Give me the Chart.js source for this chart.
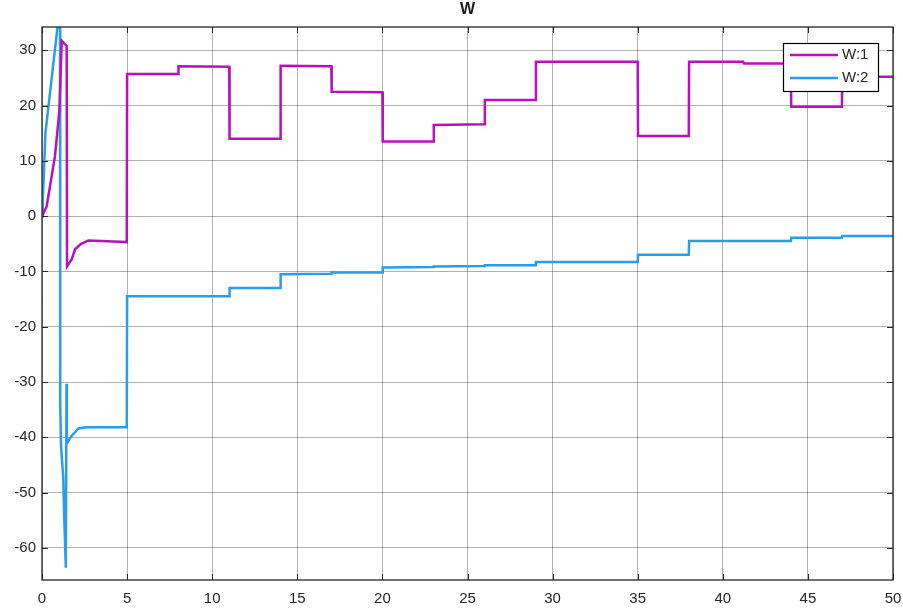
<!DOCTYPE html>
<html>
<head>
<meta charset="utf-8">
<title>W</title>
<script src="https://cdn.jsdelivr.net/npm/chart.js@4.4.1/dist/chart.umd.min.js"></script>
<style>
  body { margin: 0; background: #fff; }
  #wrap { width: 903px; height: 614px; }
</style>
</head>
<body>
<div id="wrap"><canvas id="wChart" width="903" height="614"></canvas></div>
<script>
// W:1 (magenta) - time and value
const w1Time = [0, 0.27, 0.47, 0.76, 1.02, 1.16, 1.35, 1.45, 1.47, 1.75, 1.94, 2.3, 2.72, 3.5, 4.2, 4.98,
  5.0, 8.0, 8.02, 11.0, 11.02, 14.0, 14.02, 17.0, 17.02, 20.0, 20.02, 23.0, 23.02, 26.0, 26.02,
  29.0, 29.02, 35.0, 35.02, 38.0, 38.02, 41.2, 41.25, 44.0, 44.02, 47.0, 47.02, 50];
const w1Value = [0, 1.7, 5.4, 10.8, 19, 31.7, 31.1, 30.8, -9.1, -7.8, -6.0, -5.0, -4.4, -4.5, -4.6, -4.7,
  25.7, 25.7, 27.1, 27.0, 14.0, 14.0, 27.2, 27.1, 22.5, 22.4, 13.5, 13.5, 16.5, 16.6, 21.0,
  21.0, 27.9, 27.9, 14.5, 14.5, 27.9, 27.9, 27.6, 27.6, 19.8, 19.8, 25.2, 25.2];

// W:2 (blue)
const w2Time = [0, 0.05, 0.2, 0.98, 1.06, 1.07, 1.12, 1.25, 1.3, 1.4, 1.44, 1.46, 1.75, 2.14, 2.6, 4.98,
  5.0, 11.0, 11.02, 14.0, 14.02, 17.0, 17.02, 20.0, 20.02, 23.0, 23.02, 26.0, 26.02, 29.0, 29.02,
  35.0, 35.02, 38.0, 38.02, 44.0, 44.02, 47.0, 47.02, 50];
const w2Value = [0, 3, 15, 36, 34, -33.8, -41.8, -47.3, -53.9, -63.6, -30.3, -41.1, -39.7, -38.4, -38.2, -38.2,
  -14.5, -14.5, -13.0, -13.0, -10.5, -10.4, -10.2, -10.2, -9.3, -9.2, -9.1, -9.0, -8.9, -8.9, -8.3,
  -8.3, -7.0, -7.0, -4.5, -4.5, -3.9, -3.9, -3.6, -3.6];

const seriesLabels = ['W:1', 'W:2'];
const chartTitle = 'W';
const xTicks = [0, 5, 10, 15, 20, 25, 30, 35, 40, 45, 50];
const yTicks = [-60, -50, -40, -30, -20, -10, 0, 10, 20, 30];

const toPoints = (t, v) => t.map((x, i) => ({ x: x, y: v[i] }));

const fontFamily = '"Liberation Sans", Arial, Helvetica, sans-serif';
const axisColor = '#262626';

// box around the plot with inward tick marks, like the original
const boxPlugin = {
  id: 'box',
  afterDatasetsDraw(chart) {
    const { ctx, chartArea: a, scales } = chart;
    ctx.save();
    ctx.strokeStyle = axisColor;
    ctx.lineWidth = 1;
    ctx.beginPath();
    xTicks.forEach(v => {
      const px = Math.round(scales.x.getPixelForValue(v)) + 0.5;
      ctx.moveTo(px, a.bottom); ctx.lineTo(px, a.bottom - 6);
      ctx.moveTo(px, a.top); ctx.lineTo(px, a.top + 6);
    });
    yTicks.forEach(v => {
      const py = Math.round(scales.y.getPixelForValue(v)) + 0.5;
      ctx.moveTo(a.left, py); ctx.lineTo(a.left + 6, py);
      ctx.moveTo(a.right, py); ctx.lineTo(a.right - 6, py);
    });
    ctx.stroke();
    ctx.lineWidth = 1.3;
    ctx.strokeRect(a.left, a.top, a.right - a.left, a.bottom - a.top);
    ctx.restore();
  }
};

// legend drawn inside the plot, top right
const insideLegend = {
  id: 'insideLegend',
  afterDraw(chart) {
    const { ctx, chartArea: a } = chart;
    const w = 95, h = 48;
    const left = a.right - 110, top = a.top + 16;
    ctx.save();
    ctx.fillStyle = '#fff';
    ctx.fillRect(left, top, w, h);
    ctx.strokeStyle = '#000';
    ctx.lineWidth = 1.2;
    ctx.strokeRect(left + 0.5, top + 0.5, w, h);
    ctx.font = '15px ' + fontFamily;
    ctx.textBaseline = 'middle';
    chart.data.datasets.forEach((ds, i) => {
      const y = top + 12 + i * 23;
      ctx.strokeStyle = ds.borderColor;
      ctx.lineWidth = 2.5;
      ctx.beginPath();
      ctx.moveTo(left + 7, y);
      ctx.lineTo(left + 55, y);
      ctx.stroke();
      ctx.fillStyle = '#262626';
      ctx.fillText(ds.label, left + 59, y);
    });
    ctx.restore();
  }
};

new Chart(document.getElementById('wChart'), {
  type: 'line',
  data: {
    datasets: [
      {
        label: seriesLabels[0],
        data: toPoints(w1Time, w1Value),
        borderColor: '#bb0fbb',
        borderWidth: 2.5
      },
      {
        label: seriesLabels[1],
        data: toPoints(w2Time, w2Value),
        borderColor: '#2a9de8',
        borderWidth: 2.5
      }
    ]
  },
  options: {
    responsive: false,
    animation: false,
    elements: { point: { radius: 0 }, line: { tension: 0 } },
    layout: { padding: { left: 0, right: 10, top: 0, bottom: 0 } },
    plugins: {
      legend: { display: false },
      tooltip: { enabled: false },
      title: {
        display: true,
        text: chartTitle,
        fullSize: false,
        color: '#1a1a1a',
        font: { family: fontFamily, size: 16, weight: 'bold' },
        padding: { top: 0, bottom: 7.8 }
      }
    },
    scales: {
      x: {
        type: 'linear',
        min: 0,
        max: 50,
        afterFit: s => { s.height = 34; s.paddingLeft = 0; s.paddingRight = 0; },
        afterBuildTicks: s => { s.ticks = xTicks.map(v => ({ value: v })); },
        grid: { color: 'rgba(0,0,0,0.3)', drawTicks: false },
        border: { display: false },
        ticks: {
          padding: 10,
          maxRotation: 0,
          color: '#262626',
          font: { family: fontFamily, size: 15 }
        }
      },
      y: {
        type: 'linear',
        min: -65.8,
        max: 34.2,
        afterFit: s => { s.width = 42; s.paddingTop = 0; s.paddingBottom = 0; },
        afterBuildTicks: s => { s.ticks = yTicks.map(v => ({ value: v })); },
        grid: { color: 'rgba(0,0,0,0.3)', drawTicks: false },
        border: { display: false },
        ticks: {
          padding: 6,
          color: '#262626',
          font: { family: fontFamily, size: 15 }
        }
      }
    }
  },
  plugins: [boxPlugin, insideLegend]
});
</script>
</body>
</html>
